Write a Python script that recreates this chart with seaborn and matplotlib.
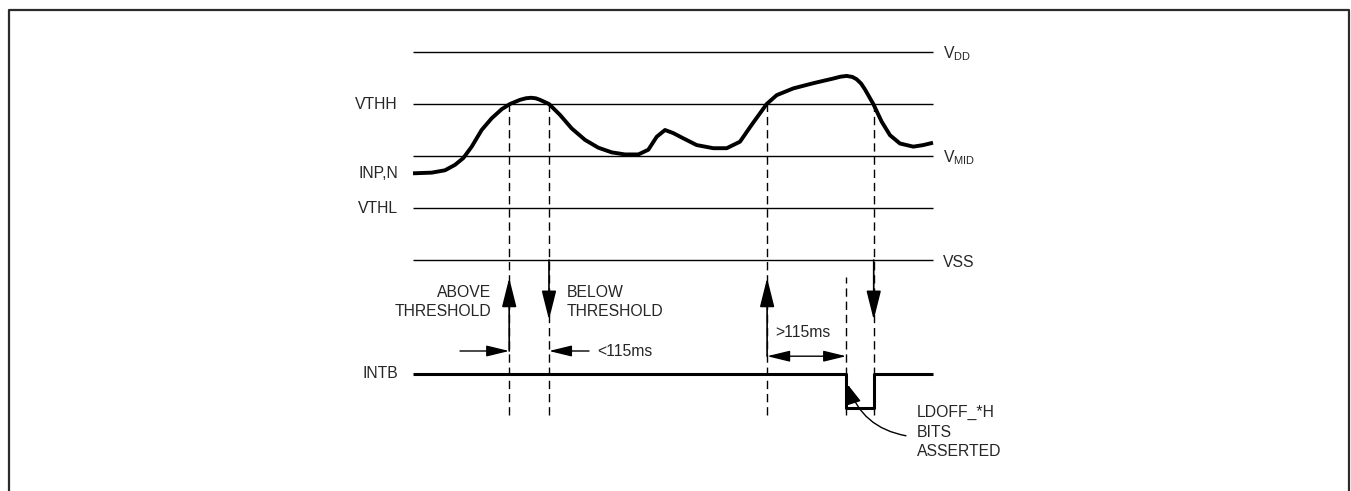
import matplotlib.pyplot as plt
import seaborn as sns
from matplotlib.patches import FancyArrowPatch

# Reference levels (arbitrary units, VSS = 0)
level_values = [0.0, 1.0, 2.0, 3.0, 4.0]
left_labels = {"VTHH": 3.0, "VTHL": 1.0}
right_labels = {"V$_{\\mathregular{DD}}$": 4.0, "V$_{\\mathregular{MID}}$": 2.0, "VSS": 0.0}

# INP,N waveform (time in % of the window)
inp_t = [0.0, 3.6, 6.15, 8.08, 9.67, 11.29, 13.2, 15.13, 17.06, 18.65, 20.58, 21.7, 22.69,
         23.6, 24.42, 26.15, 28.27, 30.52, 33.08, 35.63, 38.21, 40.77, 43.33, 45.25, 46.87,
         48.46, 50.06, 51.98, 54.56, 57.75, 60.33, 62.88, 65.13, 68.02, 69.94, 73.13,
         76.98, 80.83, 82.2, 83.4, 84.5, 85.33, 86.2, 86.92, 88.52, 90.13, 91.73, 93.65,
         96.21, 98.13, 100.0]
inp_v = [1.667, 1.68, 1.725, 1.83, 1.96, 2.18, 2.5, 2.725, 2.9, 3.0, 3.08, 3.11, 3.12,
         3.11, 3.08, 3.0, 2.79, 2.53, 2.31, 2.16, 2.07, 2.03, 2.03, 2.12, 2.37,
         2.5, 2.44, 2.34, 2.21, 2.15, 2.15, 2.275, 2.6, 3.0, 3.17, 3.30,
         3.40, 3.49, 3.525, 3.54, 3.52, 3.475, 3.39, 3.28, 3.0, 2.66, 2.40, 2.24,
         2.18, 2.21, 2.255]

# Event times
t_above = 18.5
t_below = 26.15
t_above2 = 68.1
t_timeout = 83.3
t_below2 = 88.6

# INTB output
intb_high = -2.19
intb_low = -2.85
intb_t = [0.0, t_timeout, t_timeout, t_below2, t_below2, 100.0]
intb_v = [intb_high, intb_high, intb_low, intb_low, intb_high, intb_high]

sns.set_style("white")
plt.rcParams["font.family"] = ["Liberation Sans", "DejaVu Sans"]
fs = 11.3

fig = plt.figure(figsize=(13.51, 4.91), dpi=100)
ax = fig.add_axes([0, 0, 1, 1])
ax.set_xlim(-79.423, 180.385)
ax.set_ylim(-4.4423, 5.0)
ax.axis("off")

# Frame (top, left, right)
ax.plot([0.00666, 0.00666, 0.99852, 0.99852], [0.0, 0.97963, 0.97963, 0.0],
        transform=ax.transAxes, color="#2b2b2b", lw=1.6, clip_on=False)

# Level lines
ax.hlines(level_values, 0, 100, color="black", lw=1.0)

# Dashed event markers
dash = (0, (6, 3.5))
ax.vlines([t_above, t_below, t_above2, t_below2], -2.98, 3.0, colors="black", lw=1.0, linestyles=dash)
ax.vlines([t_timeout], -2.98, -0.33, colors="black", lw=1.0, linestyles=dash)

# Signals
sns.lineplot(x=inp_t, y=inp_v, sort=False, estimator=None, color="black", lw=2.8, ax=ax)
sns.lineplot(x=intb_t, y=intb_v, sort=False, estimator=None, color="black", lw=2.2, ax=ax)
for ln in ax.lines:
    ln.set_solid_joinstyle("round")
    ln.set_solid_capstyle("butt")


def arrow(p0, p1, style, conn="arc3", lw=1.0):
    ax.add_patch(FancyArrowPatch(p0, p1, arrowstyle=style, connectionstyle=conn,
                                 mutation_scale=1, lw=lw, color="black",
                                 shrinkA=0, shrinkB=0))


vstyle = "-|>,head_length=18,head_width=4.5"
hstyle = "-|>,head_length=14,head_width=3.4"
arrow((t_above, -1.75), (t_above, -0.346), vstyle, lw=1.2)
arrow((t_above2, -1.85), (t_above2, -0.346), vstyle, lw=1.2)
arrow((t_below, 0.0), (t_below, -1.15), vstyle, lw=1.2)
arrow((t_below2, 0.0), (t_below2, -1.15), vstyle, lw=1.2)
arrow((9.04, -1.75), (t_above, -1.75), hstyle)
arrow((33.85, -1.75), (t_below, -1.75), hstyle)
arrow((t_above2, -1.85), (t_timeout, -1.85), "<|-|>,head_length=14,head_width=3.4")
arrow((94.8, -3.38), (83.65, -2.40), "-|>,head_length=12,head_width=4.5",
      conn="arc3,rad=-0.3")

# Labels
for name, v in left_labels.items():
    ax.text(-2.9, v, name, ha="right", va="center", fontsize=fs)
ax.text(-2.9, inp_v[0], "INP,N", ha="right", va="center", fontsize=fs)
ax.text(-2.9, intb_high, "INTB", ha="right", va="center", fontsize=fs)
for name, v in right_labels.items():
    ax.text(101.9, v - 0.04, name, ha="left", va="center", fontsize=fs)

ax.text(15.0, -0.80, "ABOVE\nTHRESHOLD", ha="right", va="center", multialignment="right",
        fontsize=fs, linespacing=1.35)
ax.text(29.6, -0.80, "BELOW\nTHRESHOLD", ha="left", va="center", multialignment="left",
        fontsize=fs, linespacing=1.35)
ax.text(35.4, -1.75, "<115ms", ha="left", va="center", fontsize=fs)
ax.text(75.0, -1.40, ">115ms", ha="center", va="center", fontsize=fs)
ax.text(96.9, -3.31, "LDOFF_*H\nBITS\nASSERTED", ha="left", va="center",
        fontsize=fs, linespacing=1.35)

fig.savefig("out.png", dpi=100)
